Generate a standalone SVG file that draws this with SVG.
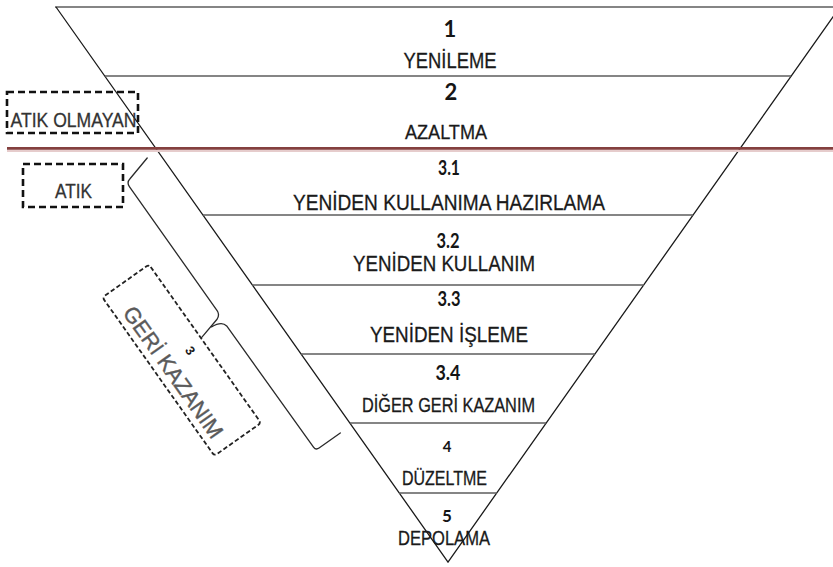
<svg xmlns="http://www.w3.org/2000/svg" width="833" height="567" viewBox="0 0 833 567">
<style>
.lbl{font-family:"Liberation Sans",Arial,sans-serif;fill:#1a1a1a;stroke:#1a1a1a;stroke-width:0.3;text-anchor:middle}
.num{font-family:Lato,"Liberation Sans",sans-serif;font-weight:bold;fill:#151515;text-anchor:middle}
.div{stroke:#5c5c5c;stroke-width:1.6;fill:none}
.side{stroke:#1a1a1a;stroke-width:1.3;fill:none}
.dash{fill:none;stroke:#111;stroke-width:2.6;stroke-dasharray:7 4}
.dash2{fill:none;stroke:#222;stroke-width:1.8;stroke-dasharray:4.5 2.5}
.box{font-family:"Liberation Sans",Arial,sans-serif;fill:#333;stroke:#333;stroke-width:0.3;text-anchor:middle}
.brace{fill:none;stroke:#2a2a2a;stroke-width:1.3;stroke-linejoin:round;stroke-linecap:round}
</style>
<rect width="833" height="567" fill="#ffffff"/>

<g id="pyramid">
  <line class="div" x1="55" y1="7" x2="833" y2="7"/>
  <path class="side" d="M56,7 L448,562 L840,7"/>
</g>

<g id="connectors">
  <line class="div" x1="105" y1="76" x2="791" y2="76"/>
  <line x1="7" y1="150.8" x2="833" y2="150.8" stroke="#e6cccc" stroke-width="2.5"/>
  <line x1="7" y1="148.3" x2="833" y2="148.3" stroke="#84403f" stroke-width="2.8"/>
  <line class="div" x1="203" y1="215" x2="693" y2="215"/>
  <line class="div" x1="252" y1="285" x2="644" y2="285"/>
  <line class="div" x1="301" y1="354" x2="595" y2="354"/>
  <line class="div" x1="350" y1="423" x2="546" y2="423"/>
  <line class="div" x1="399" y1="493" x2="497" y2="493"/>
  <g id="brace" transform="rotate(54.75)">
    <path class="brace" d="M214,-29 L221,-3 Q222,2 227,2 L379,2 Q384,2 386,7 L392,30"/>
    <path class="brace" d="M389,16 Q390,4 397,3 L546,2 Q550,2 550,-2 L550,-28"/>
  </g>
</g>

<g id="layer-1">
  <text class="num" x="450" y="36.5" font-size="22">1</text>
  <text class="lbl" x="450" y="68" font-size="22" textLength="93" lengthAdjust="spacingAndGlyphs">YENİLEME</text>
</g>
<g id="layer-2">
  <text class="num" x="451" y="100" font-size="22">2</text>
  <text class="lbl" x="446" y="138.5" font-size="20.5" textLength="82" lengthAdjust="spacingAndGlyphs">AZALTMA</text>
</g>
<g id="layer-3-1">
  <text class="num" x="449" y="175" font-size="20" textLength="22" lengthAdjust="spacingAndGlyphs">3.1</text>
  <text class="lbl" x="449" y="210" font-size="22" textLength="312" lengthAdjust="spacingAndGlyphs">YENİDEN KULLANIMA HAZIRLAMA</text>
</g>
<g id="layer-3-2">
  <text class="num" x="448" y="248" font-size="20" textLength="23" lengthAdjust="spacingAndGlyphs">3.2</text>
  <text class="lbl" x="444" y="270.5" font-size="21.5" textLength="182" lengthAdjust="spacingAndGlyphs">YENİDEN KULLANIM</text>
</g>
<g id="layer-3-3">
  <text class="num" x="449" y="306" font-size="20" textLength="23" lengthAdjust="spacingAndGlyphs">3.3</text>
  <text class="lbl" x="449" y="342" font-size="21.5" textLength="158" lengthAdjust="spacingAndGlyphs">YENİDEN İŞLEME</text>
</g>
<g id="layer-3-4">
  <text class="num" x="448" y="380" font-size="20" textLength="25" lengthAdjust="spacingAndGlyphs">3.4</text>
  <text class="lbl" x="448.5" y="412" font-size="20" textLength="173" lengthAdjust="spacingAndGlyphs">DİĞER GERİ KAZANIM</text>
</g>
<g id="layer-4">
  <text class="num" x="447" y="451.5" font-size="15">4</text>
  <text class="lbl" x="444.5" y="485" font-size="20" textLength="85" lengthAdjust="spacingAndGlyphs">DÜZELTME</text>
</g>
<g id="layer-5">
  <text class="num" x="447" y="521.5" font-size="17">5</text>
  <text class="lbl" x="444" y="545" font-size="20" textLength="92" lengthAdjust="spacingAndGlyphs">DEPOLAMA</text>
</g>

<g id="atik-olmayan">
  <rect class="dash" x="7" y="92" width="131" height="41"/>
  <text class="box" x="73.5" y="126.5" font-size="21" textLength="126" lengthAdjust="spacingAndGlyphs">ATIK OLMAYAN</text>
</g>
<g id="atik">
  <rect class="dash" x="23" y="164" width="100" height="43"/>
  <text class="box" x="73.5" y="198" font-size="21" textLength="37" lengthAdjust="spacingAndGlyphs">ATIK</text>
</g>
<g id="geri-kazanim" transform="rotate(54.75)">
  <rect class="dash2" x="302" y="31" width="194" height="57" rx="3"/>
  <text x="396" y="51.5" font-family="Liberation Sans,Arial,sans-serif" font-size="13" font-weight="bold" fill="#1a1a1a" text-anchor="middle">3</text>
  <text x="404" y="81" font-family="Liberation Sans,Arial,sans-serif" font-size="22" fill="#5a5a5a" stroke="#5a5a5a" stroke-width="0.4" text-anchor="middle" textLength="156" lengthAdjust="spacingAndGlyphs">GERİ KAZANIM</text>
</g>
</svg>
